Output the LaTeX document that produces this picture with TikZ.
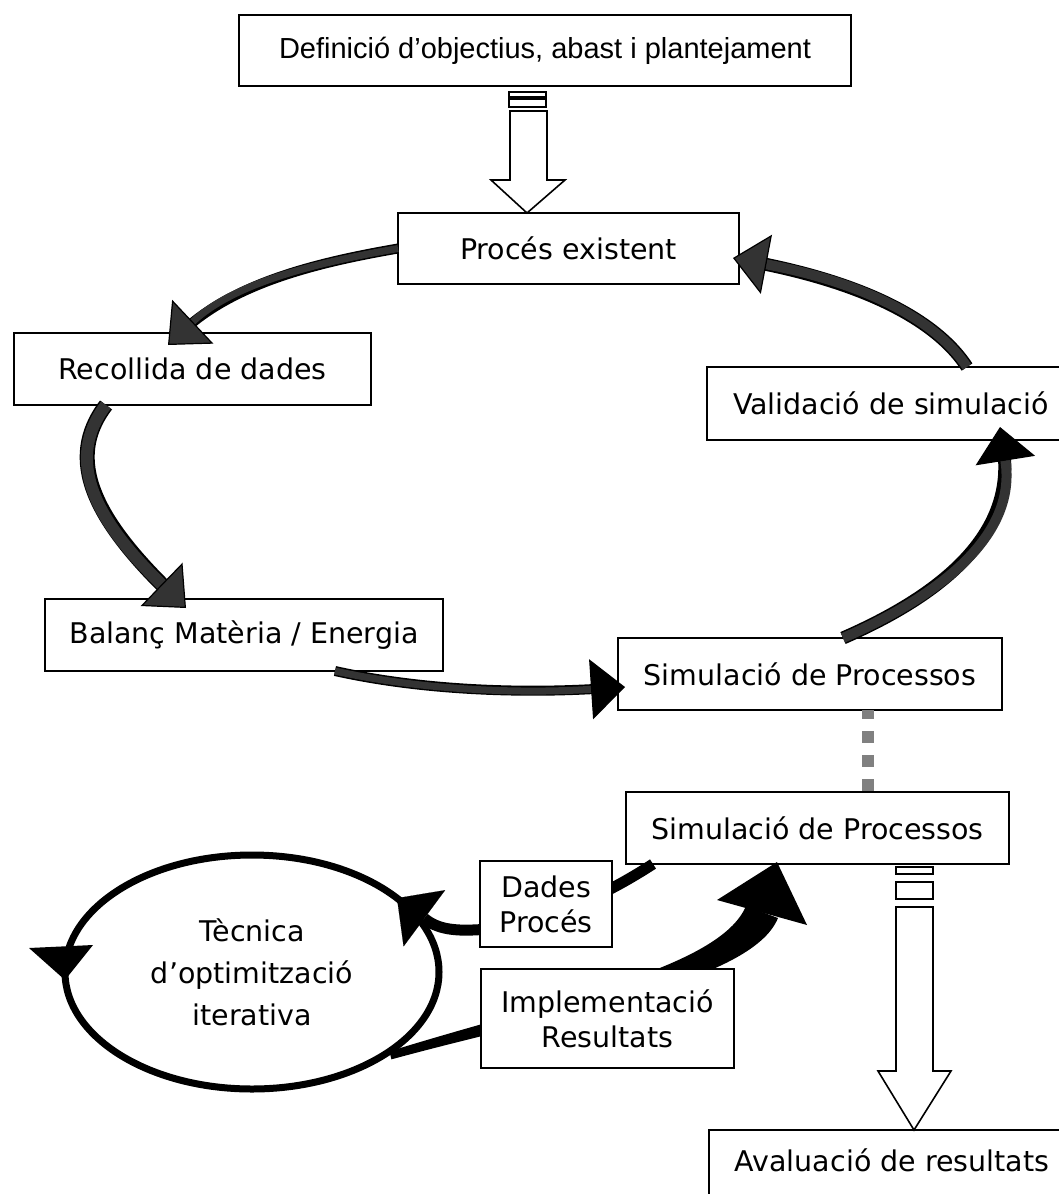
\documentclass[tikz,border=0pt]{standalone}
\usepackage{fontspec}
\setmainfont{DejaVu Sans}
\newfontfamily\arialfont{Liberation Sans}
\usetikzlibrary{arrows.meta,shapes.geometric,calc}
\definecolor{shaft}{HTML}{333333}
\definecolor{dotgray}{HTML}{808080}
\newcommand\boxfs{\fontsize{28.5}{34.2}\selectfont}
\newcommand\lblfs{\fontsize{28.5}{35}\selectfont}
\newcommand\ellfs{\fontsize{28.5}{42}\selectfont}

\begin{document}
\begin{tikzpicture}[x=1pt,y=-1pt,
  every node/.style={inner sep=0pt,outer sep=0pt},
  box/.style={draw,line width=1.6pt,fill=white,minimum height=72pt,font=\boxfs},
  lbl/.style={draw,line width=1.6pt,fill=white,align=center,font=\lblfs},
  blockarrow/.style={draw,line width=1.6pt,fill=white,line join=miter},
  % dark shaft with a thin black rim: #1 inner width, #2 outer width
  gconn/.style 2 args={line width=#1,draw=shaft,
    preaction={draw=black,line width=#2,arrows=-,shorten >=20pt},
    -{Triangle[length=34pt,width=60pt,line width=1.2pt,color=black,fill=shaft]}},
  bconn/.style 2 args={line width=#1,draw=shaft,
    preaction={draw=black,line width=#2,arrows=-,shorten >=20pt},
    -{Triangle[length=34pt,width=60pt,line width=1.2pt,color=black,fill=black]}},
  kconn/.style={line width=11pt,draw=black,
    -{Triangle[length=34pt,width=70pt,line width=0.1pt]}},
  dotline/.style={draw=dotgray,line width=12pt,dash pattern=on 12pt off 12pt,dash phase=3pt}
]
\useasboundingbox (0,0) rectangle (1059,1194);
\clip (0,0) rectangle (1059,1194);

% main boxes
\node[box,minimum width=612pt,minimum height=71pt,font=\arialfont\fontsize{29}{35}\selectfont]
  (def) at (545,50.5) {Definició d’objectius, abast i plantejament};
\node[box,minimum width=341pt,minimum height=71pt] (proc) at (568.5,248.5) {Procés existent};
\node[box,minimum width=357pt] (rec) at (192.5,369) {Recollida de dades};
\node[box,minimum width=398pt] (bal) at (244,635) {Balanç Matèria / Energia};
\node[box,minimum width=384pt] (sim1) at (810,674) {Simulació de Processos};
\node[box,minimum width=368pt,minimum height=73pt] (val) at (891,403.5) {Validació de simulació};
\node[box,minimum width=383pt] (sim2) at (817.5,828) {Simulació de Processos};
\node[box,minimum width=366pt,minimum height=76pt,text depth=16pt] (ava) at (892,1168) {Avaluació de resultats};

% block arrow: definition -> existing process
\draw[blockarrow] (509,92) rectangle (546,97);
\draw[blockarrow] (509,99) rectangle (546,107);
\draw[blockarrow] (510,111) -- (547,111) -- (547,180) -- (565,180) -- (proc.north -| 527,0)
  -- (491,180) -- (510,180) -- cycle;

% block arrow: simulation -> evaluation
\draw[blockarrow] (896,867) rectangle (933,874);
\draw[blockarrow] (896,882) rectangle (933,899);
\draw[blockarrow] (896,907) -- (933,907) -- (933,1071) -- (951,1071) -- (ava.north -| 914,0)
  -- (878,1071) -- (896,1071) -- cycle;

% the outer cycle
\draw[gconn={7pt}{10pt}] (proc.west) .. controls (320,262) and (235,282) .. ($(rec.north)+(-24.5,12)$);
\draw[gconn={12pt}{15pt}] ($(rec.south west)+(92,0)$) .. controls (64,460) and (95,520) .. ($(bal.north east)+(-257,9)$);
\draw[bconn={7pt}{10pt}] ($(bal.south east)+(-108,0)$) .. controls (420,690) and (520,694) .. ($(sim1.west)+(7,13)$);
\draw[bconn={10pt}{13pt}] ($(sim1.north west)+(225,0)$) .. controls (930,600) and (1018,540) .. ($(val.south west)+(293,-13)$);
\draw[gconn={10pt}{13pt}] ($(val.north west)+(260,0)$) .. controls (935,318) and (860,282) .. ($(proc.east)+(-6,9.5)$);

% link between the two simulation boxes
\path[dotline] ($(sim1.south west)+(250,0)$) -- ($(sim2.north west)+(242,0)$);

% optimisation loop
\node[draw,ellipse,line width=7pt,minimum width=374pt,minimum height=234pt,align=center,font=\ellfs]
  (ell) at (252,972) {Tècnica\\d’optimització\\iterativa};
\fill ($(ell.west)+(-36,-24)$) -- ($(ell.west)+(28,-27)$) -- ($(ell.west)+(0,8)$) -- cycle;

\draw[kconn] ($(sim2.south west)+(27,0)$) .. controls (590,905) and (520,932) .. (460,930)
  .. controls (436,929) and (428,921) .. (ell.27);

\fill (ell.-30) .. controls (555,1000) and (720,968) .. (746,906)
  -- (778,918) .. controls (752,982) and (565,1012) .. ($(ell.-30)+(2,8)$) -- cycle;
\fill (717,900) -- ($(sim2.south west)+(151,-2)$) -- (807,925) -- cycle;

\node[lbl,minimum width=132pt,minimum height=86pt] (dades) at (546,904) {Dades\\Procés};
\node[lbl,minimum width=253pt,minimum height=99pt] (impl) at (607.5,1018.5) {Implementació\\Resultats};
\end{tikzpicture}
\end{document}
